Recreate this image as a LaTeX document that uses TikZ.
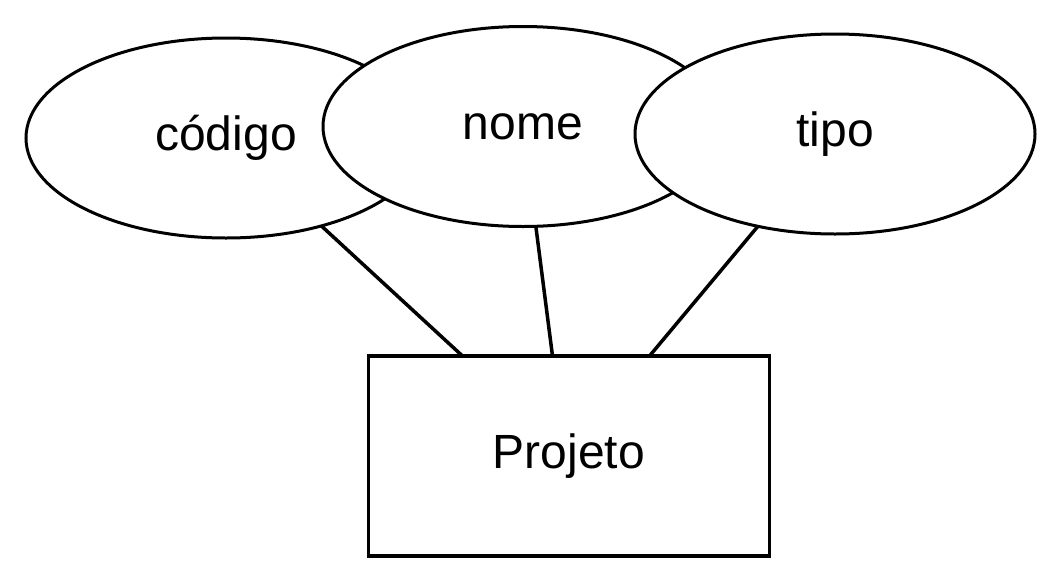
\documentclass[tikz,border=0pt]{standalone}
\usepackage{fontspec}
\setmainfont{Liberation Sans}
\usetikzlibrary{shapes.geometric}
\def\Atributos{
    \node[atributo] (codigo) at (226,138) {código};
    \node[atributo] (nome) at (523,126.5) {nome};
    \node[atributo] (tipo) at (835,134) {tipo};
}
\begin{document}
\begin{tikzpicture}[x=1pt,y=-1pt,
    atributo/.style={ellipse,draw,fill=white,line width=3pt,outer sep=0pt,inner sep=0pt,
        minimum width=400pt,minimum height=200pt},
    entidade/.style={rectangle,draw,line width=3.5pt,outer sep=0pt,inner sep=0pt,
        minimum width=401pt,minimum height=200pt},
    font=\fontsize{48}{58}\selectfont]
    \useasboundingbox (0,0) rectangle (1064,584);
    \Atributos
    \node[entidade] (projeto) at (569,456) {Projeto};
    \coordinate (projeto-1) at ([xshift=94pt]projeto.north west);
    \coordinate (projeto-2) at ([xshift=184pt]projeto.north west);
    \coordinate (projeto-3) at ([xshift=281pt]projeto.north west);
    \draw[line width=3.5pt] (codigo) -- (projeto-1);
    \draw[line width=3.5pt] (nome) -- (projeto-2);
    \draw[line width=3.5pt] (tipo) -- (projeto-3);
\end{tikzpicture}
\end{document}
